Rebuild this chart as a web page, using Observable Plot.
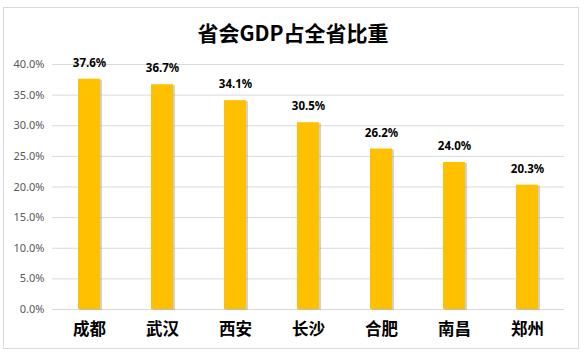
<!DOCTYPE html>
<html><head><meta charset="utf-8">
<script src="https://cdn.jsdelivr.net/npm/d3@7"></script>
<script src="https://cdn.jsdelivr.net/npm/@observablehq/plot@0.6"></script>
<style>
body{margin:0;background:#fff;width:586px;height:357px;overflow:hidden;position:relative;}
#frame{position:absolute;left:3px;top:7px;width:576px;height:342px;border:1px solid #d9d9d9;box-sizing:border-box;}
#title{position:absolute;left:0;top:16px;width:586px;text-align:center;font-family:"Noto Sans CJK SC",sans-serif;font-weight:bold;font-size:21px;color:#000;line-height:32px;}
#chart{position:absolute;left:0;top:0;}
</style></head>
<body>
<div id="frame"></div>
<div id="title">省会GDP占全省比重</div>
<div id="chart"></div>
<script>
const cities = ["成都","武汉","西安","长沙","合肥","南昌","郑州"];
const shares = [37.6, 36.7, 34.1, 30.5, 26.2, 24.0, 20.3];
const yTicks = [0,5,10,15,20,25,30,35,40];
const data = cities.map((c,i)=>({city:c, v:shares[i]}));
const fmt = d => d.toFixed(1) + "%";
const plot = Plot.plot({
  width:586, height:357,
  marginTop:64, marginBottom:48, marginLeft:52, marginRight:22,
  style:{fontFamily:"'Noto Sans','Noto Sans CJK SC',sans-serif", background:"transparent"},
  x:{domain:cities, paddingInner:0.7, paddingOuter:0.35, label:null},
  y:{domain:[0,40], label:null},
  marks:[
    Plot.ruleY(yTicks, {stroke:"#d9d9d9", strokeWidth:1}),
    Plot.axisY(yTicks, {tickSize:0, tickPadding:8, tickFormat:fmt, fill:"#595959", fontSize:11}),
    Plot.axisX({tickSize:0, tickPadding:14, fontSize:16.5, fontWeight:"bold", fill:"#000", fontFamily:"'Noto Sans CJK SC',sans-serif"}),
    Plot.barY(data, {x:"city", y:"v", fill:"#9a9a9a", fillOpacity:0.45, dx:2, dy:1}),
    Plot.barY(data, {x:"city", y:"v", fill:"#FFC000"}),
    Plot.text(data, {x:"city", y:"v", text:d=>fmt(d.v), dy:-16, fontSize:11.5, fontWeight:"bold", fill:"#000"})
  ]
});
document.getElementById("chart").appendChild(plot);
</script>
</body></html>
